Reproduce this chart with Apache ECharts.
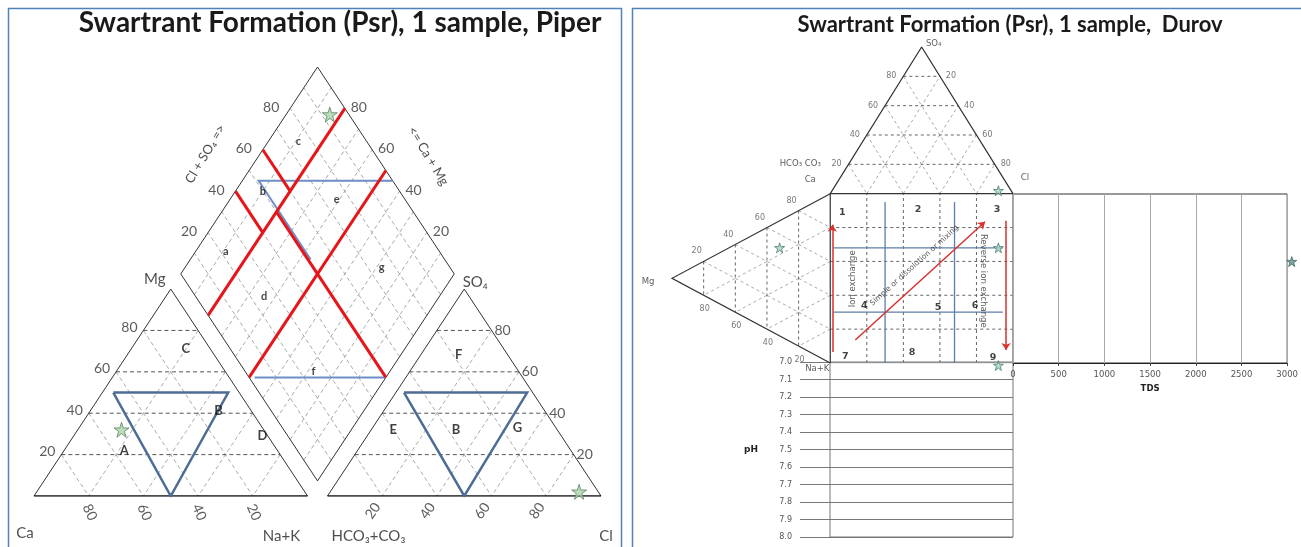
<!DOCTYPE html>
<html lang="en">
<head>
<meta charset="utf-8" />
<title>Swartrant Formation (Psr) - Piper and Durov</title>
<script src="https://cdn.jsdelivr.net/npm/echarts@6/dist/echarts.min.js"></script>
<style>
  html, body { margin: 0; padding: 0; background: #fff; }
  #chart { width: 1301px; height: 547px; }
</style>
</head>
<body>
<div id="chart"></div>
<script>
// ---- sample (meq %) ----
const cationSample = [52, 32, 16];   // Ca, Mg, Na+K
const anionSample = [7, 2, 91];      // HCO3+CO3, SO4, Cl
const sampleTDS = [3050, 60];        // TDS, level in TDS panel
const samplePH = 7.02;

const triTicks = [20, 40, 60, 80];
const diamondGrid = [10, 20, 30, 40, 50, 60, 70, 80, 90];

// Piper fields (Ca, Mg, Na+K) and (HCO3, SO4, Cl)
const cationFieldB = [[46, 50, 4], [4, 50, 46], [50, 0, 50]];
const anionFieldB = [[47, 50, 3], [2, 50, 48], [50, 0, 50]];
const cationLetters = [['A', 56, 22, 22], ['B', 12, 41, 47], ['C', 9, 71, 20], ['D', 2, 29, 69]];
const anionLetters = [['E', 60, 32, 8], ['B', 37, 32, 31], ['F', 18, 68, 14], ['G', 14, 33, 53]];

// diamond points as [Cl+SO4, Ca+Mg]
const diamondRed = [
  [[0, 80], [100, 80]],
  [[0, 50], [100, 50]],
  [[60, 100], [60, 80]],
  [[40, 100], [40, 80]],
  [[50, 80], [50, 0]]
];
const diamondBlue = [
  [[51, 56], [51, 94], [100, 45]],
  [[2, 48], [50, 0]]
];
const diamondLetters = [['a', 22, 89], ['b', 50, 90], ['c', 75, 89], ['d', 25, 64],
  ['e', 75, 61], ['f', 25, 28], ['g', 75, 28]];

// Durov square (percent of square width / height)
const durovBlueX = [30, 68];
const durovBlueY = [30, 68];
const durovNumbers = [['1', 6.6, 88.8], ['2', 48.1, 90.5], ['3', 91.3, 90.5],
  ['4', 18.6, 33.7], ['5', 59, 32.5], ['6', 79.2, 33.7],
  ['7', 8.2, 4.1], ['8', 44.8, 5.9], ['9', 89.1, 3]];
const durovArrows = [
  [[1.1, 6.5], [1.1, 81.7]],
  [[96.2, 84], [96.2, 7.7]],
  [[13.7, 13.6], [84.7, 83.4]]
];

// ---- geometry ----
const H = Math.sqrt(3) / 2;
const GAP = 7.3;
const OFF = 100 + GAP;
const cat = (ca, mg, na) => [na + mg / 2, mg * H];
const ani = (hc, so, cl) => [OFF + cl + so / 2, so * H];
const dia = (a, c) => [100 + GAP / 2 + (a - c) / 2, (GAP + a + c) * H];
const dTop = (hc, so, cl) => [cl + so / 2, 100 + so * H];
const dLeft = (ca, mg, na) => [-mg * H, ca + mg / 2];

const STAR = 'path://M50,2 L61,36 L97,36 L68,57 L79,92 L50,70 L21,92 L32,57 L3,36 L39,36 Z';

function seg(grid, data, style, extra) {
  return Object.assign({
    type: 'lines', coordinateSystem: 'cartesian2d', xAxisIndex: grid, yAxisIndex: grid,
    polyline: true, silent: true, z: 2,
    lineStyle: Object.assign({ opacity: 1, curveness: 0 }, style),
    data: data.map(c => ({ coords: c }))
  }, extra || {});
}
function texts(grid, items, base) {
  return {
    type: 'scatter', xAxisIndex: grid, yAxisIndex: grid, symbolSize: 1, silent: true, z: 6,
    clip: false, itemStyle: { color: 'rgba(0,0,0,0)' },
    label: Object.assign({ show: true, position: 'inside', formatter: '{b}', color: '#222' }, base),
    data: items.map(([name, value, o]) => ({ name, value, label: o || {} }))
  };
}
function stars(grid, pts, size, fill, stroke) {
  return {
    type: 'scatter', xAxisIndex: grid, yAxisIndex: grid, symbol: STAR, symbolSize: size,
    clip: false, silent: true, z: 7,
    itemStyle: { color: fill, borderColor: stroke, borderWidth: 1 },
    data: pts
  };
}

// ---- Piper lines ----
const pDark = [], pLight = [], pDia = [];
triTicks.forEach(t => {
  pDark.push([cat(100 - t, t, 0), cat(0, t, 100 - t)]);
  pDark.push([ani(100 - t, t, 0), ani(0, t, 100 - t)]);
  pLight.push([cat(t, 100 - t, 0), cat(t, 0, 100 - t)]);
  pLight.push([cat(0, 100 - t, t), cat(100 - t, 0, t)]);
  pLight.push([ani(t, 100 - t, 0), ani(t, 0, 100 - t)]);
  pLight.push([ani(0, 100 - t, t), ani(100 - t, 0, t)]);
});
diamondGrid.forEach(t => {
  pDia.push([dia(t, 0), dia(t, 100)]);
  pDia.push([dia(0, t), dia(100, t)]);
});
const pOutline = [
  [cat(100, 0, 0), cat(0, 100, 0), cat(0, 0, 100)],
  [ani(0, 0, 100), ani(0, 100, 0), ani(100, 0, 0)],
  [dia(0, 0), dia(100, 0), dia(100, 100), dia(0, 100), dia(0, 0)]
];
const pBase = [[cat(100, 0, 0), cat(0, 0, 100)], [ani(100, 0, 0), ani(0, 0, 100)]];
const pFields = [
  cationFieldB.concat([cationFieldB[0]]).map(p => cat(...p)),
  anionFieldB.concat([anionFieldB[0]]).map(p => ani(...p))
];

// ---- Piper texts ----
const pTicks = [];
triTicks.forEach(t => {
  const cb = cat(t, 0, 100 - t), ab = ani(100 - t, 0, t);
  pTicks.push([String(t), cat(100 - t, t, 0), { offset: [-14, -3] }]);
  pTicks.push([String(t), [cb[0] + 0.4, -6.8], { rotate: -65 }]);
  pTicks.push([String(t), ani(0, t, 100 - t), { offset: [11, 0] }]);
  pTicks.push([String(t), [ab[0] - 3.4, -6.2], { rotate: 55 }]);
  pTicks.push([String(t), dia(t, 100), { offset: [-19, -1] }]);
  pTicks.push([String(t), dia(100, t), { offset: [14, -1] }]);
});
const pNames = [
  ['Ca', cat(100, 0, 0), { offset: [-9, 37] }],
  ['Na+K', cat(0, 0, 100), { offset: [-26, 40] }],
  ['Mg', cat(0, 100, 0), { offset: [-16, -10] }],
  ['HCO₃+CO₃', ani(100, 0, 0), { offset: [41, 40] }],
  ['Cl', ani(0, 0, 100), { offset: [5, 40] }],
  ['SO₄', ani(0, 100, 0), { offset: [11, -7] }],
  ['Cl + SO₄ =>', dia(38, 120), { rotate: 59, fontSize: 13 }],
  ['<= Ca + Mg', dia(119, 38), { rotate: -59, fontSize: 13 }]
];
const pSmall = diamondLetters.map(([n, a, c]) => [n, dia(a, c)]);
const pBig = cationLetters.map(([n, ca, mg, na]) => [n, cat(ca, mg, na)])
  .concat(anionLetters.map(([n, hc, so, cl]) => [n, ani(hc, so, cl)]));

// ---- Durov lines ----
const dDark = [], dLight = [];
triTicks.forEach(t => {
  dDark.push([dTop(100 - t, t, 0), dTop(0, t, 100 - t)]);
  dLight.push([dTop(100 - t, 0, t), dTop(0, 100 - t, t)]);
  dLight.push([dTop(t, 100 - t, 0), dTop(t, 0, 100 - t)]);
  dDark.push([dLeft(100 - t, t, 0), dLeft(0, t, 100 - t)]);
  dLight.push([dLeft(t, 100 - t, 0), dLeft(t, 0, 100 - t)]);
  dLight.push([dLeft(100 - t, 0, t), dLeft(0, 100 - t, t)]);
  dDark.push([[t, 0], [t, 100]]);
  dDark.push([[0, t], [100, t]]);
});
const dOutline = [
  [dTop(100, 0, 0), dTop(0, 100, 0), dTop(0, 0, 100)],
  [dLeft(100, 0, 0), dLeft(0, 100, 0), dLeft(0, 0, 100)],
  [[0, 0], [0, 100], [100, 100]]
];
const dSquareLight = [[[0, 0], [100, 0], [100, 100]]];
const dBlue = durovBlueX.map(x => [[x, 0], [x, 95]])
  .concat(durovBlueY.map(y => [[2, y], [94.5, y]]));

const dTickItems = [];
triTicks.forEach(t => {
  dTickItems.push([String(t), dTop(100 - t, t, 0), { offset: [-12, 0] }]);
  dTickItems.push([String(t), dTop(0, 100 - t, t), { offset: [11, 0] }]);
  dTickItems.push([String(t), dLeft(t, 100 - t, 0), { offset: [-7, -10] }]);
  dTickItems.push([String(t), dLeft(0, t, 100 - t), { offset: [1, 14] }]);
});
const dNames = [
  ['SO₄', dTop(0, 100, 0), { offset: [12, -3] }],
  ['HCO₃ CO₃', dTop(100, 0, 0), { offset: [-30, -30] }],
  ['Ca', dLeft(100, 0, 0), { offset: [-20, -14] }],
  ['Cl', dTop(0, 0, 100), { offset: [12, -16] }],
  ['Mg', dLeft(0, 100, 0), { offset: [-24, 3] }],
  ['Na+K', dLeft(0, 0, 100), { offset: [-13, 6] }]
];
const dProcess = [
  ['Ion exchange', [12.6, 49.7], { rotate: 90 }],
  ['Simple or dissolution or mixing', [46, 57.5], { rotate: 42, fontSize: 7.5 }],
  ['Reverse ion exchange', [83.6, 48.5], { rotate: -90 }]
];

const cPt = dLeft(...cationSample);
const aPt = dTop(...anionSample);

const hidden = (min, max, grid) => ({ type: 'value', min, max, show: false, gridIndex: grid });
const FONT = 'Lato, "Open Sans", sans-serif';
const SMALL = '"DejaVu Sans", Verdana, sans-serif';

const option = {
  animation: false,
  backgroundColor: '#fff',
  graphic: [
    { type: 'rect', shape: { x: 8.5, y: 8.5, width: 613, height: 560 }, style: { fill: 'none', stroke: '#4f81bd', lineWidth: 1.5 } },
    { type: 'rect', shape: { x: 632.5, y: 8.5, width: 672, height: 560 }, style: { fill: 'none', stroke: '#4f81bd', lineWidth: 1.5 } },
    { type: 'text', x: 340, y: 23, style: { text: 'Swartrant Formation (Psr), 1 sample, Piper', textAlign: 'center', textVerticalAlign: 'middle', font: 'bold 28px ' + FONT, fill: '#1a1a1a' } },
    { type: 'text', x: 1010, y: 25, style: { text: 'Swartrant Formation (Psr), 1 sample,  Durov', textAlign: 'center', textVerticalAlign: 'middle', font: 'bold 22px ' + FONT, fill: '#1a1a1a' } }
  ],
  grid: [
    { left: 34, top: 67, width: 567, height: 429 },
    { left: 672, top: 47, width: 341, height: 316 },
    { left: 1013, top: 194, width: 278, height: 169, show: true, borderColor: '#333', borderWidth: 1 },
    { left: 830, top: 362, width: 183, height: 175, show: true, borderColor: '#777', borderWidth: 1 }
  ],
  xAxis: [
    hidden(0, 200 + GAP, 0),
    hidden(-100 * H, 100, 1),
    {
      type: 'value', gridIndex: 2, min: 0, max: 3000, interval: 500,
      axisLine: { lineStyle: { color: '#222' } },
      axisTick: { show: true, length: 3, lineStyle: { color: '#444' } },
      axisLabel: { fontFamily: SMALL, fontSize: 8.5, color: '#555', margin: 7, formatter: v => String(v) },
      splitLine: { show: true, lineStyle: { color: '#aaa', width: 1 } },
      name: 'TDS', nameLocation: 'middle', nameGap: 21,
      nameTextStyle: { fontFamily: SMALL, fontSize: 8.5, fontWeight: 'bold', color: '#222' }
    },
    hidden(0, 100, 3)
  ],
  yAxis: [
    hidden(0, (200 + GAP) * H, 0),
    hidden(0, 100 + 100 * H, 1),
    hidden(0, 100, 2),
    {
      type: 'value', gridIndex: 3, min: 7, max: 8, interval: 0.1, inverse: true,
      axisLine: { show: false },
      axisTick: { show: true, length: 30, lineStyle: { color: '#777' } },
      axisLabel: { fontFamily: SMALL, fontSize: 8, color: '#555', margin: 38, formatter: v => v.toFixed(1) },
      splitLine: { show: true, lineStyle: { color: '#777', width: 1 } },
      name: 'pH', nameLocation: 'middle', nameGap: 72, nameRotate: 0,
      nameTextStyle: { fontFamily: SMALL, fontSize: 9, fontWeight: 'bold', color: '#222' }
    }
  ],
  series: [
    // Piper
    seg(0, pDia, { color: '#aaa', width: 1, type: [4, 3] }, { z: 1 }),
    seg(0, pLight, { color: '#aaa', width: 1, type: [4, 3] }, { z: 1 }),
    seg(0, pDark, { color: '#555', width: 1, type: [4, 3] }, { z: 1 }),
    seg(0, pOutline, { color: '#333', width: 1 }),
    seg(0, pBase, { color: '#111', width: 1.5 }),
    seg(0, pFields, { color: '#4f6d94', width: 2.5 }, { z: 3 }),
    seg(0, diamondBlue.map(l => l.map(p => dia(...p))), { color: '#6d8fc7', width: 2 }, { z: 3 }),
    seg(0, diamondRed.map(l => l.map(p => dia(...p))), { color: '#e5151a', width: 3 }, { z: 4 }),
    texts(0, pTicks, { fontFamily: FONT, fontSize: 14, color: '#333' }),
    texts(0, pNames, { fontFamily: FONT, fontSize: 15, color: '#222' }),
    texts(0, pSmall, { fontFamily: FONT, fontSize: 11, fontWeight: 'bold', color: '#111' }),
    texts(0, pBig, { fontFamily: FONT, fontSize: 13, fontWeight: 'bold', color: '#111' }),
    stars(0, [cat(...cationSample), ani(...anionSample), dia(anionSample[1] + anionSample[2], cationSample[0] + cationSample[1])],
      15, '#a9d6a8', '#5d7f63'),
    // Durov
    seg(1, dLight, { color: '#aaa', width: 1, type: [3, 3] }, { z: 1 }),
    seg(1, dDark, { color: '#666', width: 1, type: [3, 3] }, { z: 1 }),
    seg(1, dSquareLight, { color: '#aaa', width: 1 }),
    seg(1, dOutline, { color: '#333', width: 1.2 }),
    seg(1, dBlue, { color: '#5b7fa6', width: 1.3 }, { z: 3 }),
    seg(1, durovArrows, { color: '#d8312e', width: 1.5 }, { z: 4, polyline: false, symbol: ['none', 'arrow'], symbolSize: 7 }),
    texts(1, dTickItems, { fontFamily: SMALL, fontSize: 8, color: '#555' }),
    texts(1, dNames, { fontFamily: SMALL, fontSize: 8.5, color: '#333' }),
    texts(1, durovNumbers.map(([n, x, y]) => [n, [x, y]]), { fontFamily: SMALL, fontSize: 9.5, fontWeight: 'bold', color: '#111' }),
    texts(1, dProcess, { fontFamily: SMALL, fontSize: 8.5, color: '#333' }),
    stars(1, [cPt, aPt, [aPt[0], cPt[1]]], 10, '#a7d3bd', '#4b7d78'),
    stars(2, [sampleTDS], 10, '#5d8f8a', '#3c6661'),
    stars(3, [[aPt[0], samplePH]], 10, '#a7d3bd', '#4b7d78')
  ]
};

const chart = echarts.init(document.getElementById('chart'));
chart.setOption(option);
</script>
</body>
</html>
